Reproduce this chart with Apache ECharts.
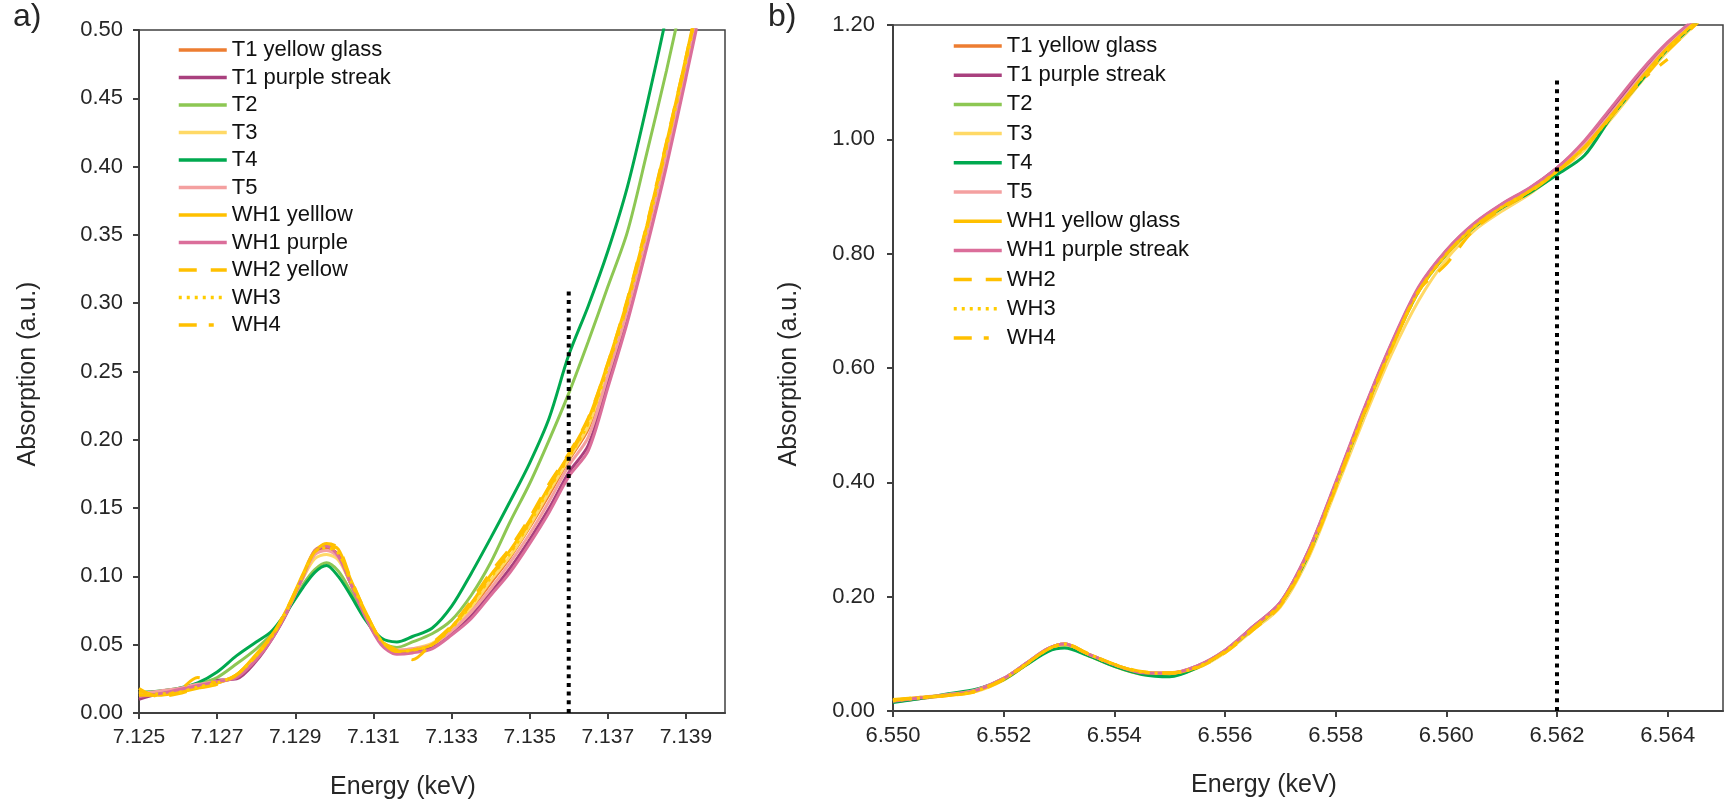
<!DOCTYPE html>
<html>
<head>
    <meta charset="utf-8">
    <title>Absorption edge</title>
    <script src="https://cdn.jsdelivr.net/npm/echarts@6/dist/echarts.min.js"></script>
    <style>
        html, body { margin: 0; padding: 0; background: #fff; }
        #main { width: 1725px; height: 804px; }
    </style>
</head>
<body>
<div id="main"></div>
<script type="text/javascript">
    // ---- panel a) energies (keV) ----
    var energyA = [7.1250, 7.1255, 7.1260, 7.1265, 7.1270, 7.1275, 7.1280, 7.1284, 7.1288, 7.1292, 7.1295,
        7.1298, 7.1301, 7.1304, 7.1308, 7.1312, 7.1316, 7.1320, 7.1325, 7.1330, 7.1335, 7.1340,
        7.1345, 7.1350, 7.1355, 7.1360, 7.1365, 7.1370, 7.1375, 7.1380, 7.1385, 7.1390, 7.1395];

    var aT1yellow = [0.013, 0.015, 0.016, 0.019, 0.022, 0.027, 0.041, 0.056, 0.076, 0.100, 0.117, 0.121, 0.116, 0.097, 0.072, 0.052, 0.045, 0.046, 0.050, 0.061, 0.076, 0.095, 0.114, 0.136, 0.160, 0.185, 0.208, 0.250, 0.296, 0.352, 0.412, 0.475, 0.542];
    var aT1purple = [0.010, 0.014, 0.017, 0.020, 0.024, 0.025, 0.038, 0.054, 0.074, 0.100, 0.118, 0.122, 0.115, 0.096, 0.071, 0.051, 0.044, 0.045, 0.048, 0.058, 0.071, 0.088, 0.106, 0.127, 0.150, 0.176, 0.196, 0.242, 0.290, 0.345, 0.404, 0.468, 0.536];
    var aT2 = [0.015, 0.016, 0.018, 0.021, 0.026, 0.036, 0.047, 0.058, 0.075, 0.094, 0.105, 0.110, 0.104, 0.090, 0.069, 0.052, 0.048, 0.052, 0.058, 0.068, 0.086, 0.110, 0.140, 0.168, 0.200, 0.234, 0.272, 0.312, 0.352, 0.410, 0.470, 0.535, 0.600];
    var aT3 = [0.015, 0.014, 0.016, 0.019, 0.022, 0.028, 0.042, 0.056, 0.076, 0.099, 0.113, 0.116, 0.112, 0.096, 0.073, 0.053, 0.046, 0.047, 0.051, 0.062, 0.077, 0.097, 0.115, 0.137, 0.162, 0.186, 0.210, 0.252, 0.298, 0.354, 0.414, 0.477, 0.544];
    var aT4 = [0.015, 0.016, 0.018, 0.022, 0.030, 0.042, 0.052, 0.060, 0.075, 0.092, 0.103, 0.108, 0.100, 0.087, 0.068, 0.055, 0.052, 0.056, 0.062, 0.078, 0.102, 0.128, 0.155, 0.183, 0.216, 0.262, 0.298, 0.338, 0.385, 0.445, 0.510, 0.580, 0.650];
    var aT5 = [0.014, 0.016, 0.018, 0.021, 0.023, 0.027, 0.040, 0.055, 0.075, 0.099, 0.116, 0.119, 0.114, 0.096, 0.072, 0.052, 0.046, 0.047, 0.050, 0.060, 0.074, 0.091, 0.110, 0.131, 0.155, 0.181, 0.202, 0.247, 0.294, 0.349, 0.408, 0.472, 0.540];
    var aWH1yellow = [0.016, 0.013, 0.015, 0.018, 0.022, 0.028, 0.043, 0.057, 0.077, 0.102, 0.119, 0.123, 0.120, 0.099, 0.074, 0.053, 0.045, 0.046, 0.050, 0.063, 0.080, 0.101, 0.119, 0.141, 0.166, 0.189, 0.215, 0.256, 0.302, 0.357, 0.417, 0.480, 0.547];
    var aWH1purple = [0.012, 0.014, 0.017, 0.020, 0.023, 0.026, 0.039, 0.054, 0.075, 0.100, 0.119, 0.122, 0.115, 0.096, 0.070, 0.050, 0.043, 0.044, 0.047, 0.057, 0.069, 0.086, 0.103, 0.124, 0.147, 0.173, 0.192, 0.238, 0.286, 0.341, 0.400, 0.465, 0.532];
    var aWH2 = [0.018, 0.012, 0.014, 0.018, 0.021, 0.028, 0.042, 0.056, 0.076, 0.101, 0.118, 0.124, 0.121, 0.100, 0.074, 0.053, 0.046, 0.039, 0.051, 0.064, 0.082, 0.103, 0.121, 0.143, 0.168, 0.190, 0.216, 0.256, 0.303, 0.358, 0.418, 0.480, 0.548];
    var aWH3 = [0.014, 0.014, 0.015, 0.019, 0.022, 0.028, 0.042, 0.056, 0.076, 0.101, 0.118, 0.121, 0.117, 0.098, 0.073, 0.053, 0.045, 0.046, 0.050, 0.062, 0.079, 0.099, 0.117, 0.139, 0.164, 0.187, 0.212, 0.253, 0.299, 0.354, 0.414, 0.477, 0.545];
    var aWH4 = [0.013, 0.013, 0.016, 0.026, 0.022, 0.028, 0.042, 0.057, 0.077, 0.101, 0.118, 0.122, 0.118, 0.098, 0.073, 0.053, 0.045, 0.046, 0.050, 0.063, 0.080, 0.100, 0.118, 0.140, 0.165, 0.188, 0.213, 0.254, 0.300, 0.355, 0.415, 0.478, 0.546];
    var edgeA = [[7.136, 0], [7.136, 0.31]];
    var xTicksA = [7.125, 7.127, 7.129, 7.131, 7.133, 7.135, 7.137, 7.139];

    // ---- panel b) energies (keV) ----
    var energyB = [6.5500, 6.5505, 6.5510, 6.5515, 6.5520, 6.5524, 6.5528, 6.5531, 6.5535, 6.5540, 6.5545,
        6.5550, 6.5555, 6.5560, 6.5565, 6.5570, 6.5575, 6.5580, 6.5585, 6.5590, 6.5595, 6.5600,
        6.5605, 6.5610, 6.5615, 6.5620, 6.5625, 6.5630, 6.5635, 6.5640, 6.5645, 6.5650];

    var bT1yellow = [0.017, 0.023, 0.028, 0.036, 0.056, 0.082, 0.108, 0.116, 0.100, 0.080, 0.067, 0.066, 0.078, 0.105, 0.145, 0.188, 0.275, 0.395, 0.520, 0.635, 0.735, 0.800, 0.848, 0.882, 0.910, 0.945, 0.988, 1.045, 1.105, 1.160, 1.205, 1.250];
    var bT1purple = [0.016, 0.022, 0.028, 0.037, 0.057, 0.083, 0.109, 0.117, 0.101, 0.080, 0.067, 0.066, 0.079, 0.106, 0.147, 0.190, 0.278, 0.398, 0.524, 0.640, 0.740, 0.805, 0.852, 0.886, 0.914, 0.950, 0.994, 1.052, 1.112, 1.165, 1.208, 1.252];
    var bT2 = [0.016, 0.023, 0.029, 0.036, 0.055, 0.081, 0.106, 0.114, 0.099, 0.079, 0.065, 0.064, 0.077, 0.104, 0.144, 0.187, 0.272, 0.392, 0.518, 0.634, 0.734, 0.798, 0.846, 0.880, 0.908, 0.942, 0.985, 1.042, 1.102, 1.158, 1.204, 1.250];
    var bT3 = [0.018, 0.022, 0.027, 0.034, 0.054, 0.080, 0.106, 0.114, 0.098, 0.078, 0.064, 0.062, 0.075, 0.102, 0.141, 0.182, 0.266, 0.386, 0.508, 0.622, 0.718, 0.790, 0.840, 0.874, 0.904, 0.941, 0.982, 1.038, 1.098, 1.154, 1.201, 1.248];
    var bT4 = [0.015, 0.022, 0.030, 0.038, 0.055, 0.080, 0.104, 0.110, 0.098, 0.078, 0.064, 0.060, 0.076, 0.104, 0.144, 0.187, 0.272, 0.394, 0.518, 0.636, 0.736, 0.800, 0.846, 0.880, 0.906, 0.938, 0.972, 1.042, 1.100, 1.158, 1.203, 1.250];
    var bT5 = [0.018, 0.024, 0.029, 0.037, 0.057, 0.083, 0.109, 0.117, 0.101, 0.081, 0.068, 0.067, 0.079, 0.106, 0.146, 0.189, 0.277, 0.397, 0.522, 0.638, 0.738, 0.803, 0.850, 0.884, 0.912, 0.948, 0.991, 1.048, 1.108, 1.163, 1.207, 1.251];
    var bWH1yellow = [0.019, 0.024, 0.028, 0.035, 0.056, 0.082, 0.108, 0.117, 0.101, 0.081, 0.068, 0.066, 0.077, 0.104, 0.144, 0.187, 0.274, 0.394, 0.519, 0.634, 0.735, 0.800, 0.847, 0.881, 0.909, 0.944, 0.987, 1.044, 1.104, 1.160, 1.205, 1.250];
    var bWH1purple = [0.017, 0.023, 0.028, 0.036, 0.057, 0.083, 0.109, 0.117, 0.101, 0.081, 0.067, 0.066, 0.079, 0.106, 0.147, 0.190, 0.279, 0.400, 0.526, 0.642, 0.742, 0.806, 0.853, 0.887, 0.915, 0.950, 0.998, 1.058, 1.118, 1.170, 1.212, 1.254];
    var bWH2 = [0.020, 0.024, 0.027, 0.034, 0.055, 0.081, 0.108, 0.118, 0.102, 0.082, 0.069, 0.067, 0.076, 0.102, 0.141, 0.184, 0.270, 0.390, 0.515, 0.632, 0.735, 0.782, 0.842, 0.878, 0.907, 0.943, 0.985, 1.042, 1.100, 1.155, 1.200, 1.248];
    var bWH3 = [0.018, 0.023, 0.028, 0.035, 0.056, 0.082, 0.108, 0.117, 0.101, 0.081, 0.068, 0.066, 0.077, 0.104, 0.144, 0.187, 0.273, 0.393, 0.518, 0.633, 0.734, 0.799, 0.847, 0.881, 0.909, 0.944, 0.986, 1.043, 1.103, 1.158, 1.204, 1.250];
    var bWH4 = [0.019, 0.023, 0.027, 0.035, 0.056, 0.082, 0.108, 0.117, 0.101, 0.081, 0.068, 0.066, 0.077, 0.104, 0.144, 0.187, 0.273, 0.393, 0.518, 0.633, 0.734, 0.799, 0.847, 0.881, 0.909, 0.944, 0.986, 1.043, 1.100, 1.140, null, null];
    var edgeB = [[6.562, 0], [6.562, 1.11]];
    var xTicksB = [6.550, 6.552, 6.554, 6.556, 6.558, 6.560, 6.562, 6.564];

    var FONT = '"Liberation Sans", Arial, sans-serif';
    var INK = '#262626';

    function pairs(xs, ys) {
        var out = [];
        for (var i = 0; i < xs.length; i++) {
            if (ys[i] != null) out.push([xs[i], ys[i]]);
        }
        return out;
    }

    function curve(name, panel, xs, ys, color, dash) {
        return {
            name: name,
            type: 'line',
            xAxisIndex: panel,
            yAxisIndex: panel,
            data: pairs(xs, ys),
            symbol: 'none',
            smooth: 0.3,
            animation: false,
            lineStyle: {color: color, width: 3, type: dash || 'solid'},
            itemStyle: {color: color}
        };
    }

    var DASH = [18, 14], DOT = [3, 5], DASHDOT = [18, 12, 5, 13];

    var series = [
        curve('T1 yellow glass', 0, energyA, aT1yellow, '#ED7D31'),
        curve('T1 purple streak', 0, energyA, aT1purple, '#A9407E'),
        curve('T2', 0, energyA, aT2, '#8DC753'),
        curve('T3', 0, energyA, aT3, '#FFD966'),
        curve('T4', 0, energyA, aT4, '#00A94F'),
        curve('T5', 0, energyA, aT5, '#F4A0A0'),
        curve('WH1 yelllow', 0, energyA, aWH1yellow, '#FFC000'),
        curve('WH1 purple', 0, energyA, aWH1purple, '#DB6E9A'),
        curve('WH2 yellow', 0, energyA, aWH2, '#FFC000', DASH),
        curve('WH3', 0, energyA, aWH3, '#FFCC00', DOT),
        curve('WH4', 0, energyA, aWH4, '#FFC000', DASHDOT),

        curve('T1 yellow glass', 1, energyB, bT1yellow, '#ED7D31'),
        curve('T1 purple streak', 1, energyB, bT1purple, '#A9407E'),
        curve('T2', 1, energyB, bT2, '#8DC753'),
        curve('T3', 1, energyB, bT3, '#FFD966'),
        curve('T4', 1, energyB, bT4, '#00A94F'),
        curve('T5', 1, energyB, bT5, '#F4A0A0'),
        curve('WH1 yellow glass', 1, energyB, bWH1yellow, '#FFC000'),
        curve('WH1 purple streak', 1, energyB, bWH1purple, '#DB6E9A'),
        curve('WH2', 1, energyB, bWH2, '#FFC000', DASH),
        curve('WH3', 1, energyB, bWH3, '#FFCC00', DOT),
        curve('WH4', 1, energyB, bWH4, '#FFC000', DASHDOT)
    ];

    // dotted edge markers
    [edgeA, edgeB].forEach(function (pts, k) {
        series.push({
            name: 'edge' + k,
            type: 'line',
            xAxisIndex: k,
            yAxisIndex: k,
            data: pts,
            symbol: 'none',
            animation: false,
            z: 5,
            lineStyle: {color: '#000', width: 4, type: [4, 4.7], cap: 'butt'}
        });
    });

    function xAxisFor(idx, min, max, ticks, padRight, labelSize) {
        return {
            type: 'value', gridIndex: idx, min: min, max: max,
            name: 'Energy (keV)', nameLocation: 'middle', nameGap: 62,
            nameTextStyle: {fontFamily: FONT, fontSize: 25, color: INK, padding: [0, padRight, 0, 0]},
            axisLine: {lineStyle: {color: '#404040', width: 2}},
            axisTick: {show: true, length: 6, inside: false, customValues: ticks, lineStyle: {color: '#404040', width: 2}},
            axisLabel: {customValues: ticks, margin: 14, fontFamily: FONT, fontSize: labelSize, color: INK,
                formatter: function (v) { return v.toFixed(3); }},
            splitLine: {show: false}
        };
    }

    function yAxisFor(idx, max, step, gap, labelMargin, pad) {
        return {
            type: 'value', gridIndex: idx, min: 0, max: max, interval: step,
            name: 'Absorption (a.u.)', nameLocation: 'middle', nameGap: gap, nameRotate: 90,
            nameTextStyle: {fontFamily: FONT, fontSize: 25, color: INK, padding: pad},
            axisLine: {show: true, lineStyle: {color: '#404040', width: 2}},
            axisTick: {show: true, length: 6, inside: false, lineStyle: {color: '#404040', width: 2}},
            axisLabel: {margin: labelMargin, fontFamily: FONT, fontSize: 22, color: INK,
                formatter: function (v) { return v.toFixed(2); }},
            splitLine: {show: false}
        };
    }

    function legendFor(left, top, gap, names) {
        return {
            orient: 'vertical', left: left, top: top, itemGap: gap,
            itemWidth: 48, itemHeight: 14, data: names,
            selectedMode: false,
            itemStyle: {opacity: 0},
            lineStyle: {width: 3.5},
            textStyle: {fontFamily: FONT, fontSize: 22, color: '#111'}
        };
    }

    var myChart = echarts.init(document.getElementById('main'));

    var option = {
        backgroundColor: '#fff',
        animation: false,
        title: [
            {text: 'a)', left: 8, top: -4, textStyle: {fontFamily: FONT, fontSize: 32, fontWeight: 'normal', color: INK}},
            {text: 'b)', left: 763, top: -4, textStyle: {fontFamily: FONT, fontSize: 32, fontWeight: 'normal', color: INK}}
        ],
        legend: [
            legendFor(172, 34, 5.5, ['T1 yellow glass', 'T1 purple streak', 'T2', 'T3', 'T4', 'T5',
                'WH1 yelllow', 'WH1 purple', 'WH2 yellow', 'WH3', 'WH4']),
            legendFor(947, 30, 7.2, ['T1 yellow glass', 'T1 purple streak', 'T2', 'T3', 'T4', 'T5',
                'WH1 yellow glass', 'WH1 purple streak', 'WH2', 'WH3', 'WH4'])
        ],
        grid: [
            {left: 139, top: 30, width: 586, height: 683, show: true, borderColor: '#404040', borderWidth: 1.5,
                containLabel: false, outerBoundsMode: 'none'},
            {left: 893, top: 25, width: 830, height: 686, show: true, borderColor: '#404040', borderWidth: 1.5,
                containLabel: false, outerBoundsMode: 'none'}
        ],
        xAxis: [
            xAxisFor(0, 7.125, 7.140, xTicksA, 58, 21),
            xAxisFor(1, 6.550, 6.565, xTicksB, 88, 22)
        ],
        yAxis: [
            yAxisFor(0, 0.5, 0.05, 98, 16, [0, 5, 0, 0]),
            yAxisFor(1, 1.2, 0.2, 91, 18, [0, 12, 0, 0])
        ],
        series: series
    };

    myChart.setOption(option);
</script>
</body>
</html>
